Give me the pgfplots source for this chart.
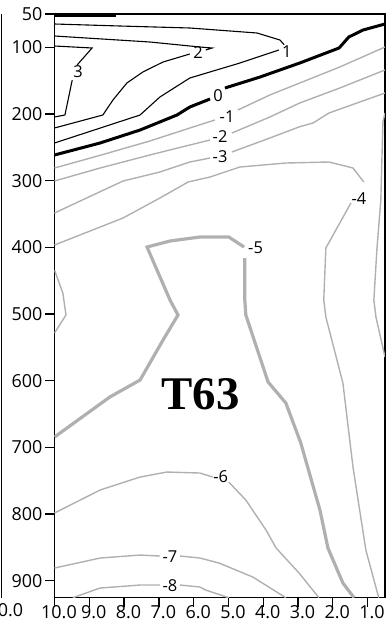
\documentclass[border=0pt]{standalone}
\usepackage{fontspec}
\setmainfont{Open Sans}
\newfontfamily\titlefont{Liberation Serif}
\usepackage{pgfplots}
\pgfplotsset{compat=1.18}

\definecolor{cgray}{RGB}{176,176,176}

\tikzset{
  thinblack/.style={black, line width=1.1bp},
  thickblack/.style={black, line width=3bp},
  thingray/.style={cgray, line width=1.4bp},
  thickgray/.style={cgray, line width=3.2bp},
  clab/.style={font=\fontsize{16.5}{16.5}\selectfont, inner sep=0pt, text=black},
}

\begin{document}
\begin{tikzpicture}
\useasboundingbox (-54.5bp,-25.3bp) rectangle (331.5bp,597.7bp);
% right edge of the neighbouring panel
\draw[line width=1.5bp] (-53bp,0bp) -- (-53bp,583.7bp);
\node[font=\fontsize{18}{18}\selectfont] at (-44bp,-12bp) {0.0};

\begin{axis}[
  at={(0,0)}, anchor=south west,
  scale only axis, width=330.5bp, height=583.7bp,
  xmin=0.5, xmax=10, ymin=50, ymax=925.5,
  x dir=reverse, y dir=reverse,
  xtick={1,2,3,4,5,6,7,8,9,10},
  xticklabels={1.0,2.0,3.0,4.0,5.0,6.0,7.0,8.0,9.0,10.0},
  ytick={50,100,200,300,400,500,600,700,800,900},
  tick pos=left, tick align=outside,
  major tick length=9.5bp,
  tick style={line width=1.3bp, black},
  axis line style={line width=1.3bp},
  ticklabel style={font=\fontsize{18}{18}\selectfont},
  /pgf/number format/assume math mode=true,
  xticklabel style={xshift=4.5bp, yshift=5.5bp},
  yticklabel style={xshift=1bp},
]

% negative contours
\addplot[thingray] coordinates {(10,281) (8.69,262) (7.26,240.5) (6.11,221) (5.39,209)};
\addplot[thingray] coordinates {(4.73,194) (3.81,171.5) (2.95,153.5) (1.80,129.5) (0.5,99.5)};
\node[clab] at (axis cs:5.04,204.5) {-1};

\addplot[thingray] coordinates {(10,300.5) (8.69,281) (7.26,261.5) (6.11,246.5) (5.53,239)};
\addplot[thingray] coordinates {(4.90,228.5) (3.81,204.5) (2.95,183.5) (1.80,161) (0.5,134)};
\node[clab] at (axis cs:5.24,234.5) {-2};

\addplot[thingray] coordinates {(10,348.5) (8.03,300.5) (6.97,287) (6.11,272) (5.53,266)};
\addplot[thingray] coordinates {(4.90,257) (3.81,236) (2.95,219) (2.57,213.5) (2.11,198.5) (0.5,168.5)};
\node[clab] at (axis cs:5.24,264.5) {-3};

\addplot[thingray] coordinates {(10,396.5) (8.03,356) (6.97,326) (6.16,302) (5.53,294.5) (4.67,279.5) (3.35,273.5) (2.11,272) (1.42,281) (1.11,302)};
\addplot[thingray] coordinates {(1.48,333.5) (2.20,401) (2.26,479) (2.20,504.5) (1.71,603.5) (1.42,729.5) (1.05,854) (0.68,925.5)};
\node[clab] at (axis cs:1.25,327) {-4};

\addplot[thingray] coordinates {(10,434) (9.76,468.5) (9.67,501.5) (10,528.5)};
\addplot[thingray] coordinates {(0.5,198.5) (0.56,212) (0.62,329) (0.73,401) (0.82,479) (0.76,504.5) (0.5,564.5)};

\addplot[thickgray] coordinates {(10,684.5) (8.41,624.5) (7.54,599) (6.88,539) (6.45,501.5) (6.68,479) (7.34,399.5) (6.68,390.5) (5.82,384.5) (4.99,384.5) (4.55,399.5)};
\addplot[thickgray] coordinates {(4.53,416) (4.53,479) (4.50,501.5) (3.86,602) (3.35,633.5) (2.92,693.5) (2.37,794) (2.14,851) (1.71,903.5) (1.39,925.5)};
\node[clab] at (axis cs:4.22,401) {-5};

\addplot[thingray] coordinates {(10,798.5) (8.69,764) (7.54,744.5) (6.77,737) (5.82,738.5) (5.45,744.5)};
\addplot[thingray] coordinates {(4.99,752) (4.50,779) (3.92,824) (3.63,851) (2.97,888.5) (2.40,925.5)};
\node[clab] at (axis cs:5.22,744.5) {-6};

\addplot[thingray] coordinates {(10,881) (8.69,866) (7.54,861.5) (6.97,863)};
\addplot[thingray] coordinates {(6.39,863) (5.82,866) (5.27,873.5) (4.30,894.5) (3.35,925.5)};
\node[clab] at (axis cs:6.68,864.5) {-7};

\addplot[thingray] coordinates {(9.47,925.5) (8.69,911) (7.54,906.5) (6.97,906.5)};
\addplot[thingray] coordinates {(6.39,906.5) (5.82,909.5) (5.65,914) (4.99,925.5)};
\node[clab] at (axis cs:6.68,908) {-8};

% zero contour
\addplot[thickblack] coordinates {(10,51.5) (8.23,51.5)};
\addplot[thickblack] coordinates {(10,261.5) (8.69,243.5) (7.54,224) (6.48,201.5) (6.11,189.5) (5.53,177.5)};
\addplot[thickblack] coordinates {(5.10,161) (4.09,144.5) (2.95,123.5) (1.82,101) (1.54,84.5) (1.13,74) (0.5,65)};
\node[clab] at (axis cs:5.30,172) {0};

% positive contours
\addplot[thinblack] coordinates {(10,65) (8.12,68) (6.11,71) (4.18,78.5) (3.52,89) (3.40,96)};
\addplot[thinblack] coordinates {(3.55,104) (4.67,123.5) (6.11,146) (6.97,174.5) (7.54,201.5) (10,243.5)};
\node[clab] at (axis cs:3.32,107) {1};

\addplot[thinblack] coordinates {(10,83) (7.26,92) (5.82,99.5) (5.47,101) (5.65,104)};
\addplot[thinblack] coordinates {(6.11,110) (6.88,122) (7.46,137) (7.92,153.5) (8.32,179) (8.61,201.5) (10,221)};
\node[clab] at (axis cs:5.87,108) {2};

\addplot[thinblack] coordinates {(10,98) (8.92,101) (9.35,126.5)};
\addplot[thinblack] coordinates {(9.49,149) (9.70,201.5) (10,204.5)};
\node[clab] at (axis cs:9.32,137) {3};

\node[font={\titlefont\bfseries\fontsize{47}{47}\selectfont}] at (axis cs:5.80,620) {T63};
\end{axis}
\end{tikzpicture}
\end{document}
